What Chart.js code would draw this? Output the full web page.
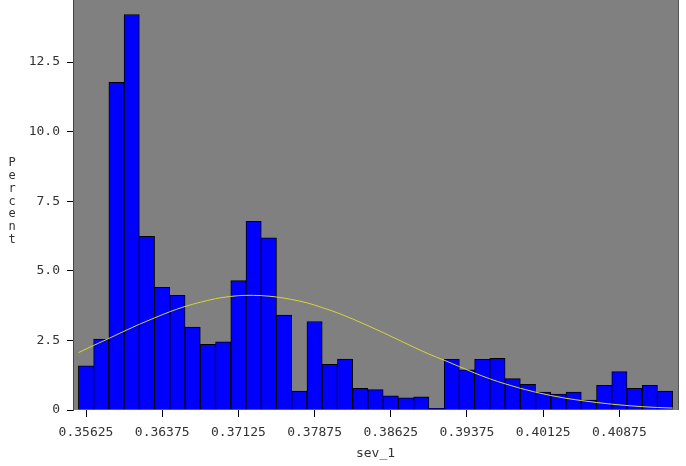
<!DOCTYPE html>
<html>
<head>
<meta charset="utf-8">
<script src="https://cdn.jsdelivr.net/npm/chart.js@4"></script>
<style>
  html, body { margin: 0; padding: 0; background: #fff; }
  canvas { display: block; }
</style>
</head>
<body>
<canvas id="histChart" width="686" height="466"></canvas>
<script>
// histogram bins (midpoints) and percent per bin
const binMids = [0.35625, 0.35775, 0.35925, 0.36075, 0.36225, 0.36375, 0.36525, 0.36675, 0.36825, 0.36975,
    0.37125, 0.37275, 0.37425, 0.37575, 0.37725, 0.37875, 0.38025, 0.38175, 0.38325, 0.38475,
    0.38625, 0.38775, 0.38925, 0.39075, 0.39225, 0.39375, 0.39525, 0.39675, 0.39825, 0.39975,
    0.40125, 0.40275, 0.40425, 0.40575, 0.40725, 0.40875, 0.41025, 0.41175, 0.41325];
const percent = [1.59, 2.55, 11.77, 14.21, 6.24, 4.41, 4.12, 2.98, 2.36, 2.45,
    4.65, 6.78, 6.19, 3.41, 0.68, 3.18, 1.64, 1.83, 0.78, 0.73,
    0.51, 0.44, 0.47, 0.06, 1.82, 1.44, 1.82, 1.86, 1.13, 0.92,
    0.64, 0.57, 0.64, 0.36, 0.89, 1.38, 0.78, 0.89, 0.68];

// fitted normal curve
const curveX = [0.3555, 0.3570, 0.3585, 0.3600, 0.3615, 0.3630, 0.3645, 0.3660, 0.3675, 0.3690,
    0.3705, 0.3720, 0.3735, 0.3750, 0.3765, 0.3780, 0.3795, 0.3810, 0.3825, 0.3840,
    0.3855, 0.3870, 0.3885, 0.3900, 0.3915, 0.3930, 0.3945, 0.3960, 0.3975, 0.3990,
    0.4005, 0.4020, 0.4035, 0.4050, 0.4065, 0.4080, 0.4095, 0.4110, 0.4125, 0.4140];
const curveY = [2.06, 2.32, 2.57, 2.83, 3.08, 3.31, 3.53, 3.72, 3.87, 4.00,
    4.08, 4.12, 4.11, 4.06, 3.97, 3.85, 3.68, 3.49, 3.27, 3.03,
    2.78, 2.52, 2.26, 2.01, 1.79, 1.56, 1.33, 1.12, 0.94, 0.78,
    0.64, 0.52, 0.42, 0.34, 0.27, 0.21, 0.16, 0.12, 0.09, 0.07];

// tick labels
const xTicks = [0.35625, 0.36375, 0.37125, 0.37875, 0.38625, 0.39375, 0.40125, 0.40875];
const yTicks = [0, 2.5, 5, 7.5, 10, 12.5];
const yTickLabels = ['0', '2.5', '5.0', '7.5', '10.0', '12.5'];

const tickFont = { family: 'DejaVu Sans Mono', size: 13 };
const textColor = '#333';

// gray plot background + frame + stacked "Percent" label
const sasFrame = {
    id: 'sasFrame',
    beforeDraw(chart) {
        const { ctx, chartArea: a } = chart;
        ctx.save();
        ctx.fillStyle = '#808080';
        ctx.fillRect(a.left, a.top, a.right - a.left, a.bottom - a.top);
        ctx.restore();
    },
    afterDraw(chart) {
        const { ctx, chartArea: a } = chart;
        ctx.save();
        ctx.strokeStyle = '#555555';
        ctx.lineWidth = 1;
        ctx.beginPath();
        ctx.moveTo(a.right + 0.5, a.top);
        ctx.lineTo(a.right + 0.5, a.bottom);
        ctx.stroke();

        const word = 'Percent';
        ctx.fillStyle = textColor;
        ctx.font = '12px "DejaVu Sans Mono"';
        ctx.textAlign = 'center';
        ctx.textBaseline = 'middle';
        for (let i = 0; i < word.length; i++) {
            ctx.fillText(word[i], 12, 163 + i * 12.8);
        }
        ctx.restore();
    }
};

const ctx = document.getElementById('histChart').getContext('2d');

new Chart(ctx, {
    type: 'bar',
    data: {
        datasets: [{
            type: 'line',
            data: curveX.map((x, i) => ({ x: x, y: curveY[i] })),
            borderColor: '#d6d63a',
            borderWidth: 1,
            pointRadius: 0,
            cubicInterpolationMode: 'monotone',
            fill: false,
            order: 0
        }, {
            data: binMids.map((x, i) => ({ x: x, y: percent[i] })),
            backgroundColor: '#0000ff',
            borderColor: '#000000',
            borderWidth: 1,
            barPercentage: 1,
            categoryPercentage: 1,
            order: 1
        }]
    },
    options: {
        responsive: false,
        animation: false,
        layout: { padding: { left: 0, right: 8, top: 0, bottom: 0 } },
        plugins: { legend: { display: false }, tooltip: { enabled: false } },
        scales: {
            x: {
                type: 'linear',
                offset: false,
                min: 0.35497,
                max: 0.41452,
                grid: { offset: false, drawOnChartArea: false, drawTicks: true, tickLength: 7, tickColor: '#000', tickWidth: 1 },
                border: { display: false },
                afterBuildTicks: s => { s.ticks = xTicks.map(v => ({ value: v })); },
                afterFit: s => { s.height = 56; s.paddingLeft = 0; s.paddingRight = 0; },
                ticks: {
                    autoSkip: false,
                    maxRotation: 0,
                    padding: 8,
                    color: textColor,
                    font: tickFont,
                    callback: v => v.toFixed(5)
                },
                title: {
                    display: true,
                    text: 'sev_1',
                    color: textColor,
                    font: tickFont,
                    padding: { top: 0, bottom: 5 }
                }
            },
            y: {
                min: 0,
                max: 14.73,
                grid: { drawOnChartArea: false, drawTicks: true, tickLength: 6, tickColor: '#000', tickWidth: 1 },
                border: { display: true, color: '#444', width: 1 },
                afterBuildTicks: s => { s.ticks = yTicks.map(v => ({ value: v })); },
                afterFit: s => { s.width = 73; s.paddingTop = 0; s.paddingBottom = 0; },
                ticks: {
                    autoSkip: false,
                    padding: 7,
                    color: textColor,
                    font: tickFont,
                    callback: (v, i) => yTickLabels[i]
                }
            }
        }
    },
    plugins: [sasFrame]
});
</script>
</body>
</html>
